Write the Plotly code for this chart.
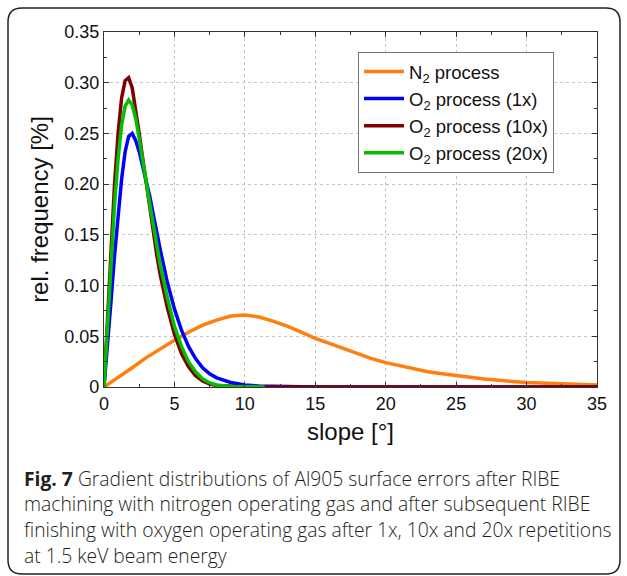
import plotly.graph_objects as go

# ---- data ----
o2_x = [0, 0.25, 0.5, 0.75, 1.0, 1.25, 1.5, 1.75, 2.0, 2.25, 2.5, 2.75, 3.0, 3.25, 3.5, 3.75,
        4.0, 4.5, 5.0, 5.5, 6.0, 6.5, 7.0, 7.5, 8.0, 9.0, 10.0, 11.0, 11.4]
o2_10x = [0, 0.07, 0.14, 0.2, 0.25, 0.285, 0.302, 0.305, 0.295, 0.275, 0.25, 0.225, 0.2, 0.175, 0.152, 0.13,
          0.11, 0.078, 0.052, 0.033, 0.02, 0.011, 0.006, 0.003, 0.0015, 0.0005, 0.0002, 0.0001, 0]
o2_20x = [0, 0.06, 0.125, 0.18, 0.225, 0.258, 0.277, 0.283, 0.278, 0.265, 0.245, 0.225, 0.202, 0.18, 0.16, 0.14,
          0.12, 0.088, 0.06, 0.04, 0.025, 0.015, 0.008, 0.004, 0.002, 0.0006, 0.0002, 0.0001, 0]
o2_1x = [0, 0.04, 0.085, 0.13, 0.17, 0.205, 0.232, 0.247, 0.25, 0.243, 0.232, 0.218, 0.205, 0.188, 0.17, 0.152,
         0.135, 0.103, 0.077, 0.056, 0.04, 0.028, 0.019, 0.013, 0.009, 0.0045, 0.002, 0.001, 0.0008]
tail_x = [12, 14, 16, 20, 35]
o2_1x_tail = [0.0005, 0.0002, 0.0001, 0, 0]
o2_10x_tail = [0, 0, 0, 0, 0]

n2_x = list(range(0, 36))
n2 = [0, 0.009, 0.019, 0.029, 0.038, 0.046, 0.054, 0.061, 0.066, 0.07, 0.071, 0.069, 0.065, 0.06,
      0.054, 0.048, 0.043, 0.038, 0.033, 0.028, 0.024, 0.021, 0.018, 0.015, 0.013, 0.011, 0.0095,
      0.008, 0.0065, 0.0055, 0.0045, 0.004, 0.0035, 0.003, 0.0025, 0.002]

x_ticks = [0, 5, 10, 15, 20, 25, 30, 35]
y_ticks = [0, 0.05, 0.10, 0.15, 0.20, 0.25, 0.30, 0.35]
y_tick_text = ["0", "0.05", "0.10", "0.15", "0.20", "0.25", "0.30", "0.35"]

caption_lines = [
    "<b>Fig. 7</b> Gradient distributions of Al905 surface errors after RIBE",
    "machining with nitrogen operating gas and after subsequent RIBE",
    "finishing with oxygen operating gas after 1x, 10x and 20x repetitions",
    "at 1.5 keV beam energy",
]

# ---- figure ----
W, H = 627, 576
L, R, T, B = 104, 30, 32, 189
pw, ph = W - L - R, H - T - B


def px(x):
    return (x - L) / pw


def py(y):
    return (H - B - y) / ph


fig = go.Figure()
fig.add_trace(go.Scatter(x=n2_x, y=n2, mode="lines", name="N<sub>2</sub> process",
                         line=dict(color="#ff7f0e", width=3.5)))
fig.add_trace(go.Scatter(x=o2_x + tail_x, y=o2_1x + o2_1x_tail, mode="lines", name="O<sub>2</sub> process (1x)",
                         line=dict(color="#0000ff", width=3.5)))
fig.add_trace(go.Scatter(x=o2_x + tail_x, y=o2_10x + o2_10x_tail, mode="lines", name="O<sub>2</sub> process (10x)",
                         line=dict(color="#800000", width=3.5)))
fig.add_trace(go.Scatter(x=o2_x, y=o2_20x, mode="lines", name="O<sub>2</sub> process (20x)",
                         line=dict(color="#00c000", width=3.5)))

FONT = "Liberation Sans"
axis_font = dict(family=FONT, size=18, color="#111")
fig.update_xaxes(range=[0, 35], tickvals=x_ticks, showgrid=True, gridcolor="#c4c4c4", griddash="dot",
                 gridwidth=1, showline=True, linecolor="#333", linewidth=1.2, mirror="ticks",
                 ticks="inside", ticklen=5, tickcolor="#333", tickfont=axis_font,
                 minor=dict(dtick=2.5, ticks="inside", ticklen=3, tickcolor="#333", showgrid=False),
                 zeroline=False,
                 title=dict(text="slope [°]", font=dict(family=FONT, size=24, color="#111"), standoff=10))
fig.update_yaxes(range=[0, 0.35], tickvals=y_ticks, ticktext=y_tick_text, showgrid=True, gridcolor="#c4c4c4",
                 griddash="dot", gridwidth=1, showline=True, linecolor="#333", linewidth=1.2, mirror="ticks",
                 ticks="inside", ticklen=5, tickcolor="#333", tickfont=axis_font,
                 minor=dict(dtick=0.025, ticks="inside", ticklen=3, tickcolor="#333", showgrid=False),
                 zeroline=False,
                 title=dict(text="rel. frequency [%]", font=dict(family=FONT, size=24, color="#111"), standoff=8))

# caption
for i, line in enumerate(caption_lines):
    fig.add_annotation(x=px(22), y=py(478 + i * 25.7), xref="paper", yref="paper", text=line,
                       showarrow=False, xanchor="left", yanchor="middle", align="left",
                       font=dict(family="Open Sans", size=19.3, color="#231f20", weight=300))

# rounded frame
x0, x1, y0, y1, r = 8, 620, 8, 574, 14
rx, ry = r / pw, r / ph
X0, X1, Y0, Y1 = px(x0), px(x1), py(y0), py(y1)
path = (f"M {X0 + rx},{Y0} L {X1 - rx},{Y0} Q {X1},{Y0} {X1},{Y0 - ry} "
        f"L {X1},{Y1 + ry} Q {X1},{Y1} {X1 - rx},{Y1} L {X0 + rx},{Y1} Q {X0},{Y1} {X0},{Y1 + ry} "
        f"L {X0},{Y0 - ry} Q {X0},{Y0} {X0 + rx},{Y0} Z")
fig.add_shape(type="path", path=path, xref="paper", yref="paper", line=dict(color="#222", width=1.5))

fig.update_layout(
    width=W, height=H, margin=dict(l=L, r=R, t=T, b=B),
    paper_bgcolor="white", plot_bgcolor="white",
    font=dict(family=FONT, color="#111"),
    legend=dict(x=px(358), y=py(52), xanchor="left", yanchor="top", bgcolor="white",
                bordercolor="#777", borderwidth=1, font=dict(family=FONT, size=18.5, color="#111"),
                tracegroupgap=0, itemwidth=40),
)

fig.write_html("out.html")
